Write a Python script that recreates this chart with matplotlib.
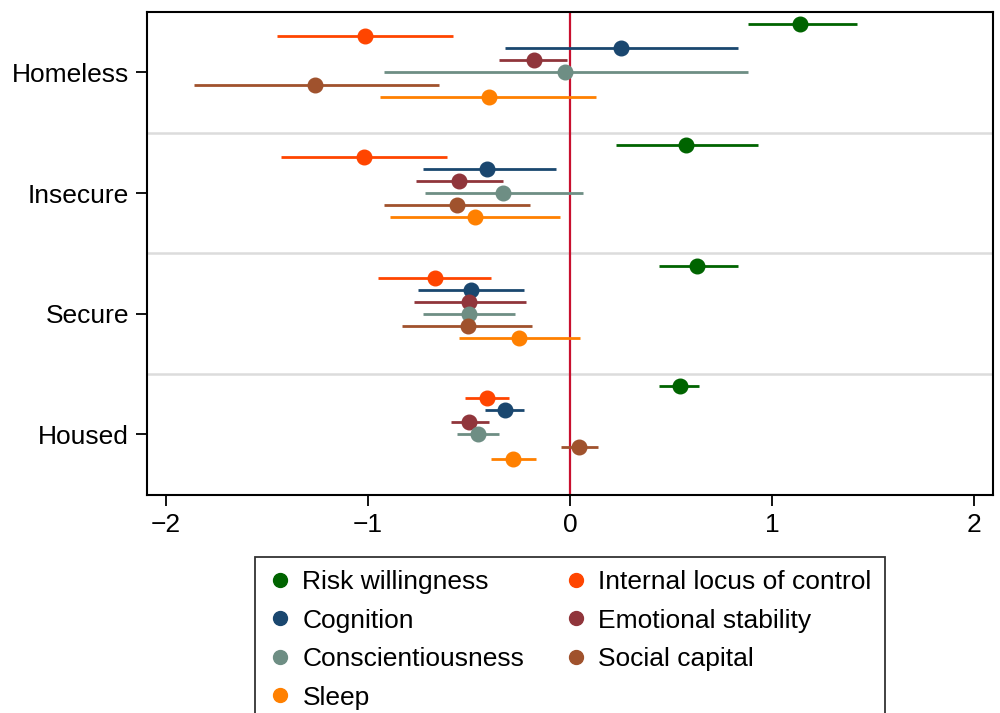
import numpy as np
import matplotlib.pyplot as plt
from matplotlib.lines import Line2D

plt.rcParams['font.family'] = ['Liberation Sans', 'DejaVu Sans']

groups = ['Homeless', 'Insecure', 'Secure', 'Housed']
series = ['Risk willingness', 'Internal locus of control', 'Cognition',
          'Emotional stability', 'Conscientiousness', 'Social capital', 'Sleep']
colors = ['#006400', '#ff4500', '#1a476f', '#90353b', '#6e8e84', '#a0522d', '#ff8000']

# estimates per group (rows) and series (columns)
est = [[1.14, -1.015, 0.25, -0.18, -0.025, -1.26, -0.40],
       [0.574, -1.02, -0.41, -0.55, -0.33, -0.56, -0.47],
       [0.63, -0.67, -0.49, -0.50, -0.50, -0.505, -0.25],
       [0.545, -0.41, -0.32, -0.50, -0.455, 0.045, -0.28]]
lo = [[0.88, -1.45, -0.32, -0.35, -0.92, -1.86, -0.94],
      [0.23, -1.43, -0.73, -0.76, -0.72, -0.92, -0.89],
      [0.44, -0.95, -0.75, -0.77, -0.73, -0.83, -0.55],
      [0.44, -0.52, -0.42, -0.59, -0.56, -0.045, -0.39]]
hi = [[1.42, -0.58, 0.83, -0.015, 0.88, -0.65, 0.13],
      [0.93, -0.61, -0.07, -0.33, 0.064, -0.20, -0.05],
      [0.83, -0.39, -0.23, -0.22, -0.27, -0.19, 0.05],
      [0.64, -0.30, -0.23, -0.40, -0.35, 0.14, -0.17]]

offsets = [-0.4, -0.3, -0.2, -0.1, 0.0, 0.1, 0.2]

fig = plt.figure(figsize=(10, 7.13), dpi=100)
ax = fig.add_axes([0.147, 0.306, 0.846, 0.677])

for g in range(len(groups)):
    for s in range(len(series)):
        y = g + offsets[s]
        ax.plot([lo[g][s], hi[g][s]], [y, y], color=colors[s], lw=2.0, solid_capstyle='butt', zorder=3)
        ax.plot(est[g][s], y, 'o', color=colors[s], ms=10.5, zorder=4)

for sep in [0.5, 1.5, 2.5]:
    ax.axhline(sep, color='#dcdcdc', lw=1.8, zorder=1)
ax.axvline(0, color='#c8102e', lw=1.6, zorder=2)

ax.set_xlim(-2.094, 2.094)
ax.set_ylim(3.5, -0.5)
ax.set_xticks([-2, -1, 0, 1, 2])
ax.set_xticklabels(['\u22122', '\u22121', '0', '1', '2'])
ax.set_yticks(range(len(groups)))
ax.set_yticklabels(groups)
ax.tick_params(labelsize=19, length=8, width=1.3, pad=5)
for sp in ax.spines.values():
    sp.set_linewidth(1.5)

handles = [Line2D([], [], marker='o', ls='', color=c, ms=10) for c in colors]
order = [0, 2, 4, 6, 1, 3, 5]
leg = fig.legend([handles[i] for i in order], [series[i] for i in order],
                 loc='upper left', bbox_to_anchor=(0.255, 0.219), ncol=2,
                 fontsize=19, frameon=True, fancybox=False, edgecolor='black',
                 handletextpad=0.4, columnspacing=1.5, labelspacing=0.55,
                 borderpad=0.5, handlelength=0.9, borderaxespad=0)
leg.get_frame().set_linewidth(1.3)

fig.savefig('out.png', dpi=100)
